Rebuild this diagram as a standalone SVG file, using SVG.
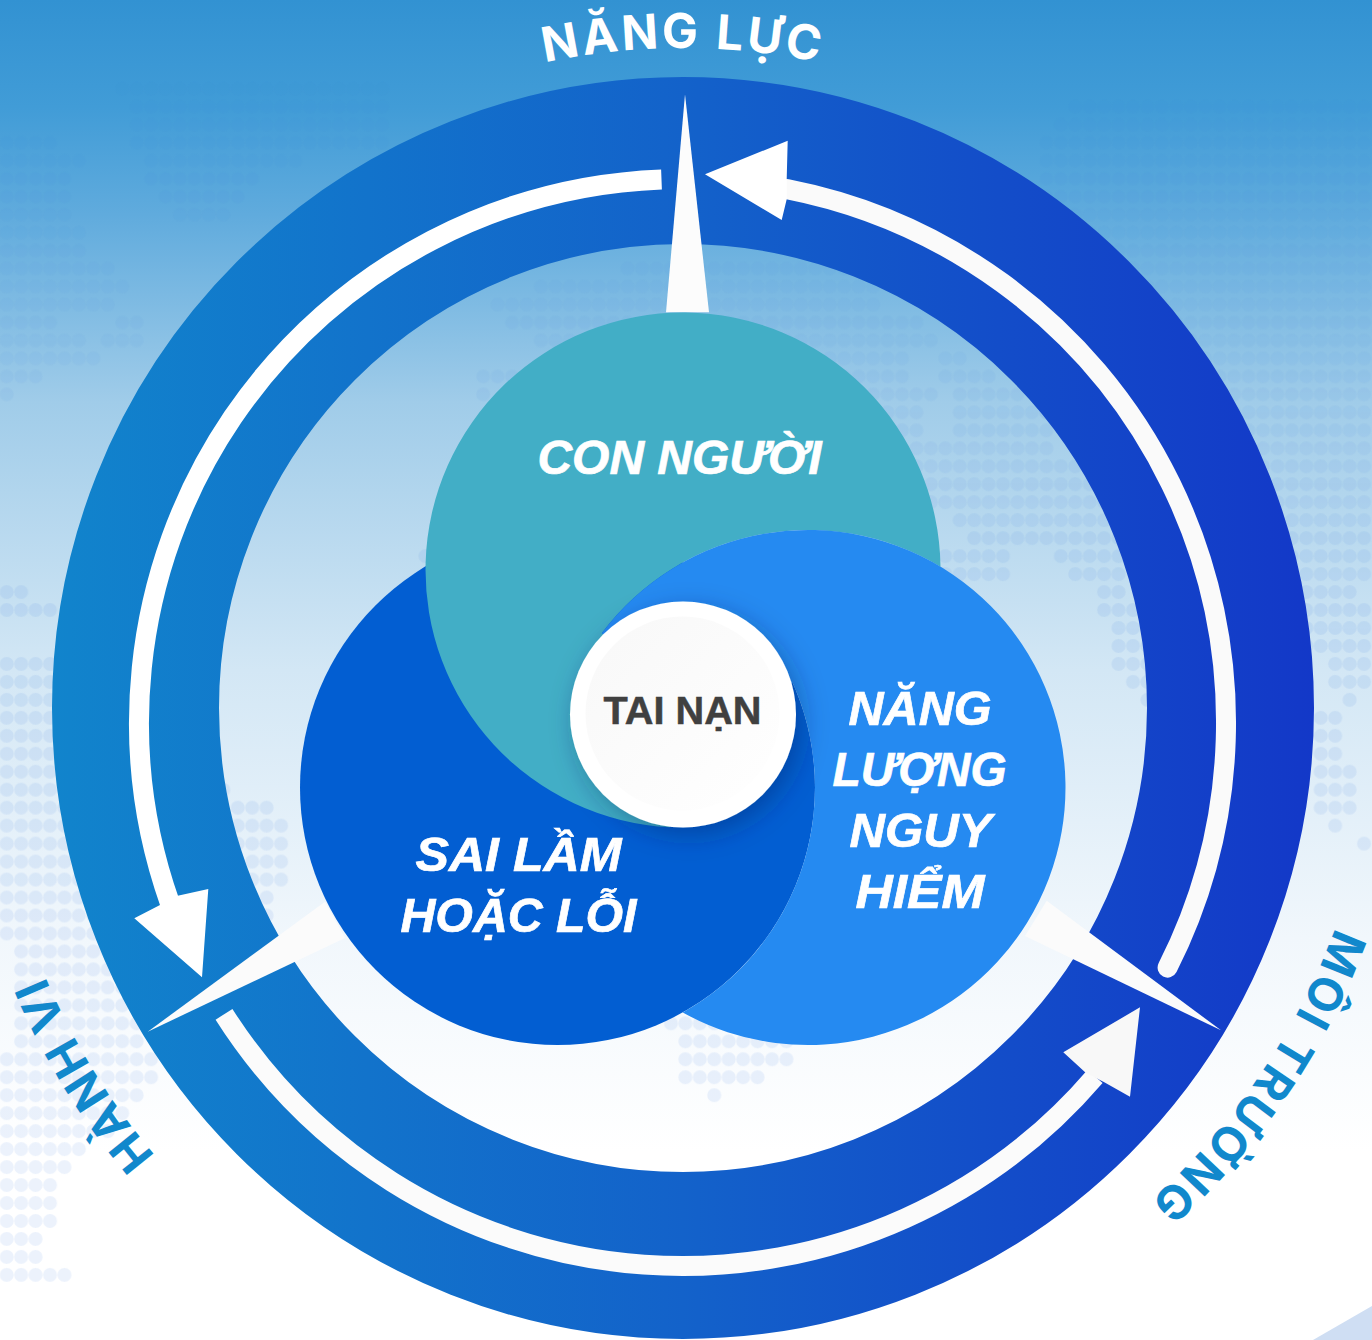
<svg xmlns="http://www.w3.org/2000/svg" width="1372" height="1340" viewBox="0 0 1372 1340">
<style>
.arc{fill:none;stroke-width:20}
.lbl{font-family:Inter,"Liberation Sans",Arial,sans-serif;font-weight:700;font-size:48px;letter-spacing:3px;text-anchor:middle}
.out{fill:#1188cc;font-size:47px;letter-spacing:2.8px}
.in{fill:#fff;stroke:#fff;stroke-width:0.7px;font-size:48px;font-style:italic;text-anchor:middle;font-family:"Liberation Sans",Arial,sans-serif;font-weight:700}
</style>
<defs>
<linearGradient id="sky" x1="0" y1="0" x2="0" y2="1">
<stop offset="0" stop-color="#3292d2"/>
<stop offset="0.08" stop-color="#419cd7"/>
<stop offset="0.16" stop-color="#60abdd"/>
<stop offset="0.3" stop-color="#a0cce9"/>
<stop offset="0.5" stop-color="#d3e7f5"/>
<stop offset="0.7" stop-color="#f1f7fc"/>
<stop offset="0.86" stop-color="#fff"/>
</linearGradient>
<linearGradient id="ringGrad" gradientUnits="userSpaceOnUse" x1="52" y1="0" x2="1314" y2="0">
<stop offset="0" stop-color="#1184cc"/>
<stop offset="0.5" stop-color="#1362ca"/>
<stop offset="1" stop-color="#1338c8"/>
</linearGradient>
<linearGradient id="dotFade" gradientUnits="userSpaceOnUse" x1="0" y1="0" x2="0" y2="640">
<stop offset="0" stop-color="#fff" stop-opacity="0.22"/>
<stop offset="0.5" stop-color="#fff" stop-opacity="0.42"/>
<stop offset="1" stop-color="#fff" stop-opacity="1"/>
</linearGradient>
<mask id="dotMask" maskUnits="userSpaceOnUse" x="0" y="0" width="1372" height="1340">
<rect width="1372" height="1340" fill="url(#dotFade)"/>
</mask>
<pattern id="dots" patternUnits="userSpaceOnUse" width="1" height="1">
<ellipse cx="0.5" cy="0.5" rx="0.485" ry="0.39" fill="#2f6fe0" fill-opacity="0.09"/>
</pattern>
<linearGradient id="inner" x1="0" y1="0" x2="1" y2="1">
<stop offset="0" stop-color="#f8f8f8"/>
<stop offset="1" stop-color="#fff"/>
</linearGradient>
<filter id="shadow" x="-40%" y="-40%" width="190%" height="190%">
<feDropShadow dx="6" dy="8" stdDeviation="13" flood-color="#0a2a60" flood-opacity="0.38"/>
</filter>
<path id="arcTop" d="M258.8 202.4A660 660 0 0 1 1107.2 202.4"/>
<path id="arcRight" d="M1377.5 690.2A688 688 0 0 1 980.2 1313.7"/>
<path id="arcLeft" d="M368.8 1324.6A692 692 0 0 1 -9 708"/>
</defs>
<g id="background">
<rect width="1372" height="1340" fill="url(#sky)"/>
<g mask="url(#dotMask)">
<g transform="translate(-0.52,8.03) scale(14.44,17.97)">
<path fill="url(#dots)" d="M8 4h19v1h-19zM9 5h18v2h-18zM0 7h4v1h-4zM9 7h18v1h-18zM0 8h6v1h-6zM10 8h11v1h-11zM0 9h5v1h-5zM10 9h8v1h-8zM0 10h5v1h-5zM11 10h6v1h-6zM0 11h5v1h-5zM12 11h4v1h-4zM0 12h6v2h-6zM0 14h8v1h-8zM0 15h9v1h-9zM0 16h8v1h-8zM0 17h4v1h-4zM8 17h2v1h-2zM0 18h6v1h-6zM7 18h3v1h-3zM0 19h7v1h-7zM0 20h3v1h-3zM0 21h1v1h-1zM0 32h2v1h-2zM0 33h4v1h-4zM0 36h5v11h-5zM15 43h1v1h-1zM16 44h3v1h-3zM15 45h5v2h-5zM0 47h20v2h-20zM0 49h19v2h-19zM0 51h9v1h-9zM1 52h9v6h-9zM0 58h11v2h-11zM0 60h10v1h-10zM0 61h9v1h-9zM0 62h8v1h-8zM0 63h6v1h-6zM0 64h5v1h-5zM0 65h4v3h-4zM0 68h3v2h-3zM0 70h5v1h-5z"/>
<path fill="url(#dots)" d="M74 5h21v1h-21zM73 6h22v1h-22zM72 7h23v16h-23zM85 23h10v9h-10zM85 32h9v1h-9zM85 33h10v3h-10zM92 36h3v2h-3zM93 38h1v1h-1zM91 39h2v3h-2zM91 42h3v3h-3zM92 45h1v1h-1zM94 46h1v1h-1z"/>
<path fill="url(#dots)" d="M43 14h17v1h-17zM37 15h24v1h-24zM34 16h27v1h-27zM35 17h29v1h-29zM37 18h28v1h-28zM50 19h13v1h-13zM65 19h2v1h-2zM33 20h3v1h-3zM50 20h13v1h-13zM65 20h4v1h-4zM33 21h1v1h-1zM50 21h15v1h-15zM66 21h5v1h-5zM50 22h14v1h-14zM66 22h7v1h-7zM50 23h14v1h-14zM66 23h7v1h-7zM50 24h23v1h-23zM50 25h25v1h-25zM50 26h27v1h-27zM50 27h29v1h-29zM66 28h14v1h-14zM67 29h14v1h-14zM29 30h1v1h-1zM65 30h5v1h-5zM73 30h8v1h-8zM65 31h5v1h-5zM74 31h4v1h-4zM76 32h2v1h-2zM76 33h3v1h-3zM77 34h3v2h-3zM77 36h4v1h-4zM78 37h2v1h-2zM79 38h1v1h-1zM46 56h5v1h-5zM47 57h8v2h-8zM47 59h6v1h-6zM49 60h1v1h-1z"/>
</g>
</g>
<polygon points="1313,1340 1372,1306 1372,1340" fill="#cfdef3"/>
</g>
<circle id="ring" cx="683" cy="708" r="547.5" fill="none" stroke="url(#ringGrad)" stroke-width="167"/>
<g id="labels-outer">
<text class="lbl" fill="#fff"><textPath href="#arcTop" startOffset="50%">NĂNG LỰC</textPath></text>
<text class="lbl out"><textPath href="#arcRight" startOffset="52.6%">MÔI TRƯỜNG</textPath></text>
<text class="lbl out" style="letter-spacing:1.8px"><textPath href="#arcLeft" startOffset="50%">HÀNH VI</textPath></text>
</g>
<g id="connectors">
<path class="arc" stroke="#fff" d="M661.5 179.4A543.5 543.5 0 0 0 170 903.4"/>
<polygon fill="#fff" points="134.3,918.3 160,905 177.7,895.7 208.3,889 202,977.3"/>
<path class="arc" stroke="#fafafa" stroke-linecap="round" d="M1167.6 967.6A543.5 543.5 0 0 0 787 189.1"/>
<polygon fill="#fff" points="705,174.3 787.7,140.7 786.7,179 786.7,199.3 781.7,220"/>
<path class="arc" stroke="#fbfbfb" d="M224 1014.3A543.5 543.5 0 0 0 1095 1076.4"/>
<polygon fill="#f8f8f8" points="1140,1007.3 1063.3,1052.3 1085.7,1072.7 1104.3,1082.3 1130,1096.7"/>
<polygon fill="#fcfcfc" points="685,94.3 666,312.3 709,312.3"/>
<polygon fill="#fbfbfb" points="147.7,1031.7 325,901.7 345,938"/>
<polygon fill="#fbfbfb" points="1221,1030.3 1046.7,900.7 1025,936"/>
</g>
<g id="node-sai-lam">
<circle cx="557.5" cy="787.5" r="257.5" fill="#025ed2"/>
<text class="in" x="518.5" y="871" textLength="206" lengthAdjust="spacingAndGlyphs">SAI LẦM</text>
<text class="in" x="518.5" y="932" textLength="236" lengthAdjust="spacingAndGlyphs">HOẶC LỖI</text>
</g>
<g id="node-con-nguoi">
<path fill="#42aec6" d="M940.5 566.7A257.5 257.5 0 0 0 602 633L683 714.5L670 827.2A257.5 257.5 0 1 1 940.5 566.7Z"/>
<text class="in" x="679.5" y="474" textLength="284" lengthAdjust="spacingAndGlyphs">CON NGƯỜI</text>
</g>
<g id="node-nang-luong">
<path fill="#258af1" d="M602 633A257.5 257.5 0 1 1 682.75 1012.5A257.5 257.5 0 0 0 792.8 683L683 714.5Z"/>
<text class="in" x="920" y="725" textLength="143" lengthAdjust="spacingAndGlyphs">NĂNG</text>
<text class="in" x="919.5" y="786" textLength="174" lengthAdjust="spacingAndGlyphs">LƯỢNG</text>
<text class="in" x="920.5" y="847" textLength="142" lengthAdjust="spacingAndGlyphs">NGUY</text>
<text class="in" x="920" y="908" textLength="129" lengthAdjust="spacingAndGlyphs">HIỂM</text>
</g>
<g id="node-tai-nan">
<circle cx="683" cy="714.5" r="113" fill="#fff" filter="url(#shadow)"/>
<circle cx="682.5" cy="713.5" r="97" fill="url(#inner)"/>
<text x="682.5" y="724" text-anchor="middle" font-family="'Liberation Sans',Arial,sans-serif" font-weight="700" font-size="39" fill="#404040" stroke="#404040" stroke-width="0.5" textLength="158" lengthAdjust="spacingAndGlyphs">TAI NẠN</text>
</g>
</svg>
